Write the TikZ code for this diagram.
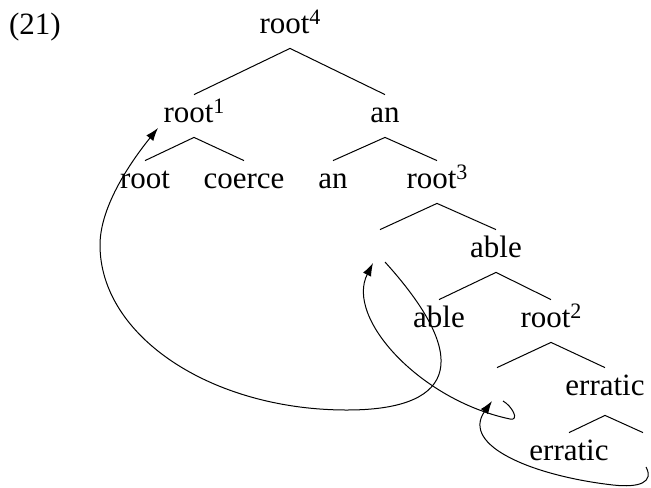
\documentclass[tikz,border=0pt]{standalone}
\usepackage{fontspec}
\setmainfont{Liberation Serif}
\usepackage{tikz}
\usetikzlibrary{arrows.meta}
\newcommand{\idx}[1]{\raisebox{4.5pt}{\fontsize{11}{11}\selectfont #1}}

\begin{document}
\begin{tikzpicture}[x=0.5pt,y=-0.5pt,
  wd/.style={anchor=base,inner sep=0pt,text height=13.5pt,text depth=7.5pt,font=\fontsize{15.5}{18}\selectfont},
  br/.style={line width=0.5pt},
  mv/.style={line width=0.5pt,-{Latex[length=6.5pt,width=4.5pt]}}]
\useasboundingbox (0,0) rectangle (651,487);
\node[wd] (ex)  at (35,34)   {(21)};
\node[wd] (r4)  at (290,33)  {root\idx{4}};
\node[wd] (r1)  at (194,122) {root\idx{1}};
\node[wd] (an1) at (385,122) {an};
\node[wd] (rt)  at (145,188) {root};
\node[wd] (co)  at (244,188) {coerce};
\node[wd] (an2) at (333,188) {an};
\node[wd] (r3)  at (437,188) {root\idx{3}};
\node[wd] (t1)  at (380,257) {};
\node[wd] (ab1) at (496,257) {able};
\node[wd] (ab2) at (439,327) {able};
\node[wd] (r2)  at (551,327) {root\idx{2}};
\node[wd] (t2)  at (497,395) {};
\node[wd,text depth=10pt] (er1) at (605,395) {erratic};
\node[wd] (er2) at (569,460) {erratic};
\node[wd] (t3)  at (643,460) {};
% branches
\foreach \a/\b in {r4/r1,r4/an1,r1/rt,r1/co,an1/an2,an1/r3,r3/t1,r3/ab1,ab1/ab2,ab1/r2,r2/t2,r2/er1,er1/er2,er1/t3}
  \draw[br] (\a.south) -- (\b.north);
% movement
\draw[mv] ([shift={(3,7)}]t3.base) .. controls (654,482) and (640,488) .. (613,485)
  .. controls (534,476) and (460,446) .. ([shift={(-5,6)}]t2.base);
\draw[mv] ([shift={(6,6)}]t2.base) .. controls (512,406) and (520,421) .. (510,419)
  .. controls (420,400) and (345,318) .. ([shift={(-7,6)}]t1.base);
\draw[mv] ([shift={(5,5)}]t1.base) .. controls (479,366) and (447,410) .. (347,410)
  .. controls (211,410) and (100,336) .. (100,245)
  .. controls (100,205) and (133,159) .. ([shift={(-36,6)}]r1.base);
\end{tikzpicture}
\end{document}
